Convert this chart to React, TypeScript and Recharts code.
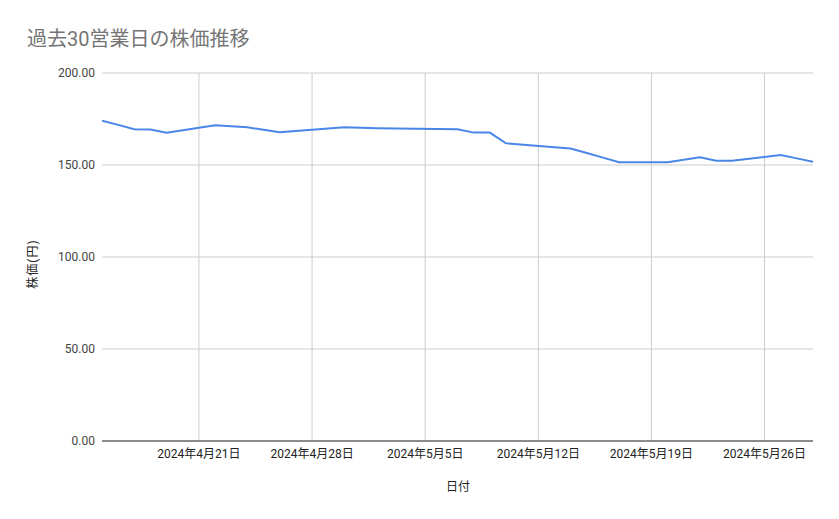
import { LineChart, Line, XAxis, YAxis, CartesianGrid, Label } from 'recharts'

// 30 business days (JP holidays skipped)
const dates = [
  '2024-04-15', '2024-04-16', '2024-04-17', '2024-04-18', '2024-04-19',
  '2024-04-22', '2024-04-23', '2024-04-24', '2024-04-25', '2024-04-26',
  '2024-04-30', '2024-05-01', '2024-05-02',
  '2024-05-07', '2024-05-08', '2024-05-09', '2024-05-10',
  '2024-05-13', '2024-05-14', '2024-05-15', '2024-05-16', '2024-05-17',
  '2024-05-20', '2024-05-21', '2024-05-22', '2024-05-23', '2024-05-24',
  '2024-05-27', '2024-05-28', '2024-05-29',
]
const prices = [
  174.1, 171.8, 169.4, 169.3, 167.6,
  171.6, 171.0, 170.5, 169.1, 167.8,
  170.5, 170.2, 170.0,
  169.4, 167.6, 167.6, 161.8,
  159.7, 159.0, 156.5, 154.0, 151.5,
  151.5, 152.8, 154.2, 152.3, 152.3,
  155.4, 153.6, 151.7,
]
const xTicks = ['2024-04-21', '2024-04-28', '2024-05-05', '2024-05-12', '2024-05-19', '2024-05-26']
const yTicks = [0, 50, 100, 150, 200]

const ms = (s: string) => {
  const [y, m, d] = s.split('-').map(Number)
  return Date.UTC(y, m - 1, d)
}

const data = dates.map((d, i) => ({ t: ms(d), price: prices[i] }))

const fmtDate = (v: number) => {
  const d = new Date(v)
  return `${d.getUTCFullYear()}年${d.getUTCMonth() + 1}月${d.getUTCDate()}日`
}

const FONT = "Roboto, 'Noto Sans CJK JP', sans-serif"

export default function App() {
  return (
    <div style={{ position: 'absolute', left: 0, top: 0, width: 839, height: 519, background: '#fff', fontFamily: FONT }}>
      <div style={{ position: 'absolute', left: 27, top: 26, fontSize: 20, color: '#757575', lineHeight: '26px' }}>
        過去30営業日の株価推移
      </div>
      <LineChart width={839} height={519} data={data} margin={{ top: 73, right: 26, bottom: 28, left: 0 }}>
        <CartesianGrid stroke="#cccccc" horizontalValues={yTicks} verticalValues={xTicks.map(ms)} />
        <XAxis
          dataKey="t"
          type="number"
          scale="time"
          domain={[ms('2024-04-15'), ms('2024-05-29')]}
          ticks={xTicks.map(ms)}
          tickFormatter={fmtDate}
          height={50}
          tickLine={false}
          axisLine={{ stroke: '#333333' }}
          tick={{ fontSize: 12, fill: '#222222', fontFamily: FONT }}
          allowDataOverflow
        >
          <Label
            content={() => (
              <text x={458} y={491} textAnchor="middle" fontSize={12} fill="#222222" fontFamily={FONT}>
                日付
              </text>
            )}
          />
        </XAxis>
        <YAxis
          domain={[0, 200]}
          ticks={yTicks}
          tickFormatter={(v: number) => v.toFixed(2)}
          width={102}
          tickLine={false}
          axisLine={false}
          tickMargin={1}
          tick={{ fontSize: 12, fill: '#444444', fontFamily: FONT }}
        >
          <Label
            content={() => (
              <text x={37} y={264} transform="rotate(-90 37 264)" textAnchor="middle" fontSize={12} fill="#222222" fontFamily={FONT} letterSpacing={1}>
                株価(円)
              </text>
            )}
          />
        </YAxis>
        <Line type="linear" dataKey="price" stroke="#4a86e8" strokeWidth={2} dot={false} isAnimationActive={false} />
      </LineChart>
    </div>
  )
}
